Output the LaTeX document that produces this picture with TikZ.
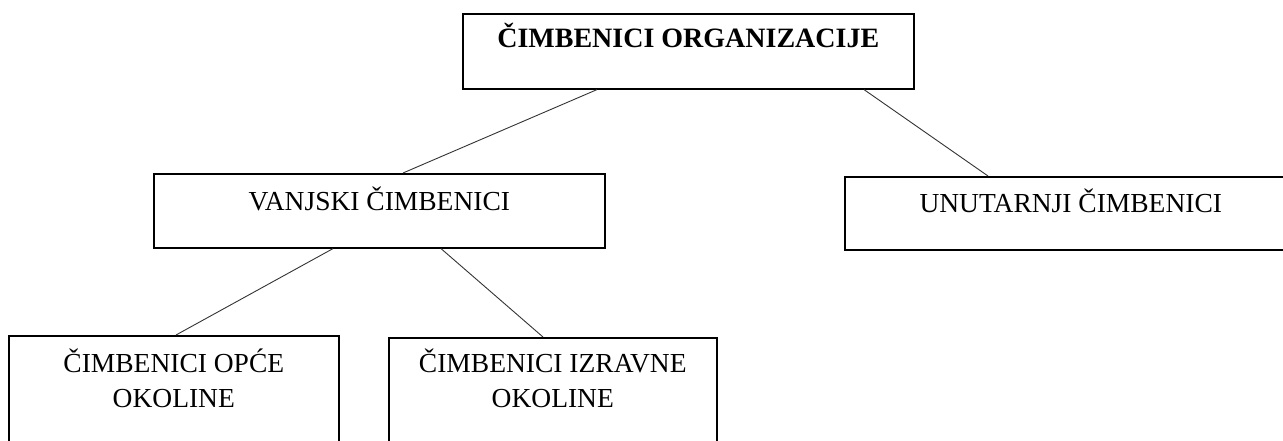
\documentclass[tikz,border=0pt]{standalone}
\usepackage{fontspec}
\setmainfont{Liberation Serif}
\usetikzlibrary{calc,positioning}

\begin{document}
\begin{tikzpicture}[x=1pt, y=-1pt, box/.style={draw=black, line width=1.6pt, rectangle, anchor=north west, inner sep=0pt}, txt/.style={font=\fontsize{27.5}{35}\selectfont, align=center, anchor=base, inner sep=0pt}, link/.style={draw=black!80, line width=0.9pt}]
        \useasboundingbox (0,0) rectangle (1283,441);

        \node[box, minimum width=451pt, minimum height=75pt] (org) at (462,13) {};
        \node[box, minimum width=451pt, minimum height=74pt] (van) at (153,173) {};
        \node[box, minimum width=452pt, minimum height=73pt] (unu) at (844,176) {};
        \node[box, minimum width=330pt, minimum height=130pt] (opce) at (8,335) {};
        \node[box, minimum width=328pt, minimum height=130pt] (izr) at (388,337) {};

        \node[txt, font=\fontsize{28}{35}\selectfont\bfseries] (orgt) at ($(org.north)+(0,35)$) {ČIMBENICI ORGANIZACIJE};
        \node[txt] (vant) at ($(van.north)+(0,37)$) {VANJSKI ČIMBENICI};
        \node[txt] (unut) at ($(unu.north)+(0,36)$) {UNUTARNJI ČIMBENICI};
        \node[txt] (opcet) at ($(opce.north)+(0,72)$) {ČIMBENICI OPĆE\\OKOLINE};
        \node[txt] (izrt) at ($(izr.north)+(0,70)$) {ČIMBENICI IZRAVNE\\OKOLINE};

        \path[link] ($(org.south west)+(135,0)$) -- ($(van.north west)+(250,0)$)
              ($(org.south west)+(402,0)$) -- ($(unu.north west)+(144,0)$)
              ($(van.south west)+(180,0)$) -- ($(opce.north west)+(168,0)$)
              ($(van.south west)+(288,0)$) -- ($(izr.north west)+(155,0)$);
    \end{tikzpicture}
\end{document}
